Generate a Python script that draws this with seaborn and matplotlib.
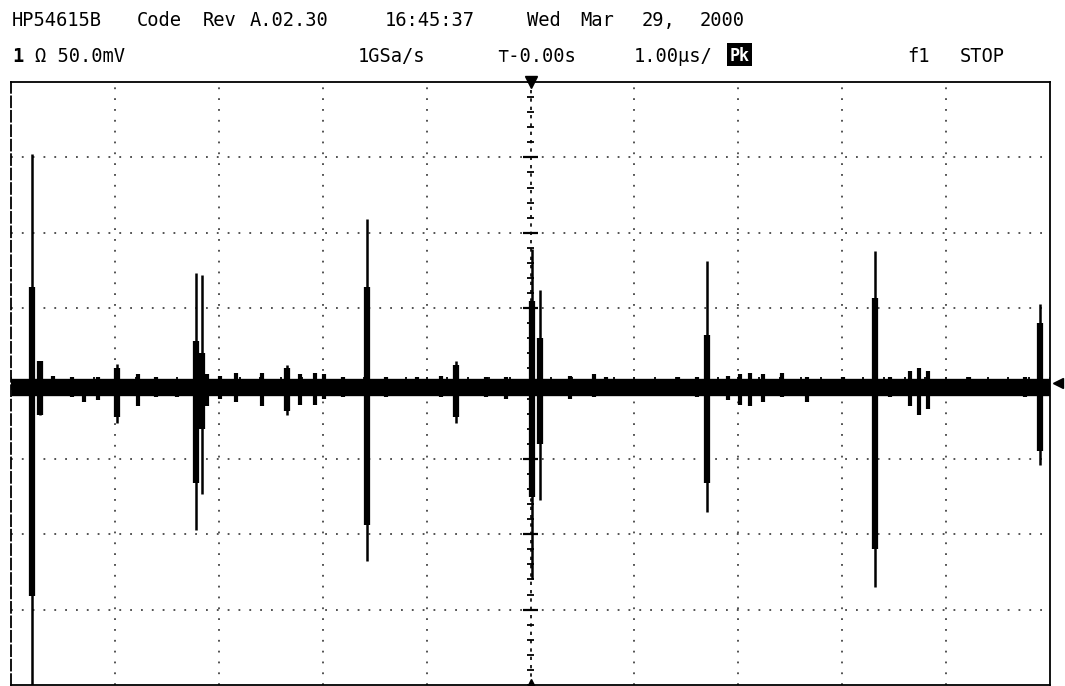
import numpy as np
import pandas as pd
import matplotlib
matplotlib.use("Agg")
import matplotlib.pyplot as plt
from matplotlib.patches import Rectangle
import seaborn as sns

# Scope setup: 10 x 1.00 us/div horizontally, 8 x 50.0 mV/div vertically
n_xdiv, n_ydiv = 10, 8
us_per_div = 1.0
mv_per_div = 50.0
baseline_mv = -2.0

# Large glitches: time (us), extreme excursions (mV) and the dense core of each
spike_t      = [-4.80, -4.72, -3.98, -3.22, -3.16, -2.34, -1.57, -0.72, 0.01, 0.09, 1.70, 3.32, 4.90]
spike_peak   = [152, 15, 13, 73, 72, 12, 109, 15, 89, 62, 81, 88, 53]
spike_trough = [-200, -21, -26, -97, -73, -21, -118, -26, -130, -77, -85, -135, -54]
core_hi      = [64, 15, 10, 28, 20, 10, 64, 12, 55, 30, 32, 57, 40]
core_lo      = [-141, -21, -22, -66, -30, -18, -94, -22, -75, -40, -66, -110, -45]

# Small noise excursions riding on the baseline
bump_t  = [-4.60, -4.41, -4.30, -4.16, -3.78, -3.60, -3.40, -3.11, -2.99, -2.83,
           -2.58, -2.22, -2.07, -1.99, -1.80, -1.39, -1.09, -0.86, -0.43, -0.24,
           0.38, 0.61, 0.73, 1.42, 1.60, 1.90, 2.02, 2.11, 2.24, 2.42,
           2.66, 3.01, 3.46, 3.65, 3.74, 3.83, 4.22, 4.76]
bump_hi = [5, 4, 3, 4, 6, 4, 3, 6, 5, 7,
           7, 6, 7, 6, 4, 4, 4, 5, 4, 4,
           5, 6, 4, 4, 4, 5, 6, 7, 6, 7,
           4, 4, 4, 8, 10, 8, 4, 4]
bump_lo = [-8, -9, -12, -11, -15, -9, -9, -15, -10, -12,
           -15, -14, -14, -10, -9, -9, -8, -9, -9, -10,
           -10, -9, -8, -8, -9, -11, -14, -15, -12, -9,
           -12, -8, -9, -15, -21, -17, -8, -9]

# Status lines of the scope display (text, left edge in pixels)
header_top = [("HP54615B", 12), ("Code", 137), ("Rev", 203), ("A.02.30", 250),
              ("16:45:37", 385), ("Wed", 527), ("Mar", 580), ("29,", 642),
              ("2000", 700)]
header_bottom = [("1", 12), ("\u03a9 50.0mV", 35), ("1GSa/s", 358),
                 ("\u22a4-0.00s", 497), ("1.00\u00b5s/", 634), ("f1", 907), ("STOP", 960)]


def segments(t, lo, hi):
    rows = []
    for i, (ti, a, b) in enumerate(zip(t, lo, hi)):
        rows.append({"t": ti, "mv": a, "seg": i})
        rows.append({"t": ti, "mv": b, "seg": i})
    return pd.DataFrame(rows)


sns.set_theme(style="white")
plt.rcParams["font.family"] = ["DejaVu Sans Mono", "DejaVu Sans"]

W, H = 1065, 686
L, R, T, B = 11, 1050, 82, 685
fig = plt.figure(figsize=(W / 100, H / 100), dpi=100)
fig.patch.set_facecolor("white")
ax = fig.add_axes([L / W, 1 - B / H, (R - L) / W, (B - T) / H])
ax.set_facecolor("white")

xmax = n_xdiv / 2 * us_per_div
ymax = n_ydiv / 2 * mv_per_div
ax.set_xlim(-xmax, xmax)
ax.set_ylim(-ymax, ymax)
ax.set_xticks([])
ax.set_yticks([])
for side, sp in ax.spines.items():
    sp.set_color("black")
    sp.set_linewidth(1.3)
ax.spines["left"].set_linestyle((0, (6, 2)))

# Dotted graticule
grid_kw = dict(color="#444444", lw=1.3, linestyle=(0, (1, 5)), zorder=1)
for k in range(1, n_xdiv):
    x = -xmax + k * us_per_div
    if abs(x) > 1e-9:
        ax.axvline(x, **grid_kw)
for k in range(1, n_ydiv):
    y = -ymax + k * mv_per_div
    if abs(y) > 1e-9:
        ax.axhline(y, **grid_kw)

# Centre axes with minor ticks
ax.axvline(0, color="black", lw=1.2, linestyle=(0, (2, 3)), zorder=1)
ax.axhline(0, color="black", lw=1.2, linestyle=(0, (2, 3)), zorder=1)
minor_y = np.arange(-ymax, ymax + 1, mv_per_div / 5)
ax.hlines(minor_y, -0.035, 0.035, color="black", lw=1.3, zorder=1)
ax.hlines(np.arange(-ymax + mv_per_div, ymax, mv_per_div), -0.07, 0.07,
          color="black", lw=1.6, zorder=1)
minor_x = np.arange(-xmax, xmax + 0.01, us_per_div / 5)
ax.vlines(minor_x, -4, 4, color="black", lw=1.3, zorder=1)

line_kw = dict(color="black", legend=False, solid_capstyle="butt", ax=ax)

# Baseline noise band
band = pd.DataFrame({"t": [-xmax, xmax], "mv": [baseline_mv, baseline_mv]})
sns.lineplot(data=band, x="t", y="mv", lw=12.5, zorder=3, **line_kw)

# Noise excursions
sns.lineplot(data=segments(bump_t, bump_lo, bump_hi), x="t", y="mv", units="seg",
             estimator=None, sort=False, lw=3.0, zorder=3, **line_kw)

# Glitches: thin full excursion plus heavy core
sns.lineplot(data=segments(spike_t, spike_trough, spike_peak), x="t", y="mv",
             units="seg", estimator=None, sort=False, lw=1.8, zorder=4, **line_kw)
sns.lineplot(data=segments(spike_t, core_lo, core_hi), x="t", y="mv",
             units="seg", estimator=None, sort=False, lw=4.5, zorder=4, **line_kw)
ax.set_xlabel("")
ax.set_ylabel("")

# Trigger and ground markers
ax.plot([0], [ymax], marker="v", ms=9, color="black", clip_on=False, zorder=6)
ax.plot([0], [-ymax], marker="^", ms=9, color="black", clip_on=False, zorder=6)
ax.plot([xmax * 1.016], [baseline_mv + 2], marker="<", ms=7, color="black",
        clip_on=False, zorder=6)


def fpos(x, y):
    return x / W, 1 - y / H


for s, x in header_top:
    fig.text(*fpos(x, 26), s, fontsize=13.5, color="black", va="baseline", ha="left")
for s, x in header_bottom:
    weight = "bold" if s == "1" else "normal"
    fig.text(*fpos(x, 62), s, fontsize=13.5, color="black", va="baseline", ha="left",
             fontweight=weight)

# Inverse-video acquisition mode box
bx, by = fpos(727, 66)
fig.patches.append(Rectangle((bx, by), 25 / W, 23 / H, transform=fig.transFigure,
                             facecolor="black", edgecolor="none"))
fig.text(*fpos(739.5, 61), "Pk", fontsize=12, color="white", va="baseline",
         ha="center", fontweight="bold")

fig.savefig("out.png", dpi=100, facecolor="white")
